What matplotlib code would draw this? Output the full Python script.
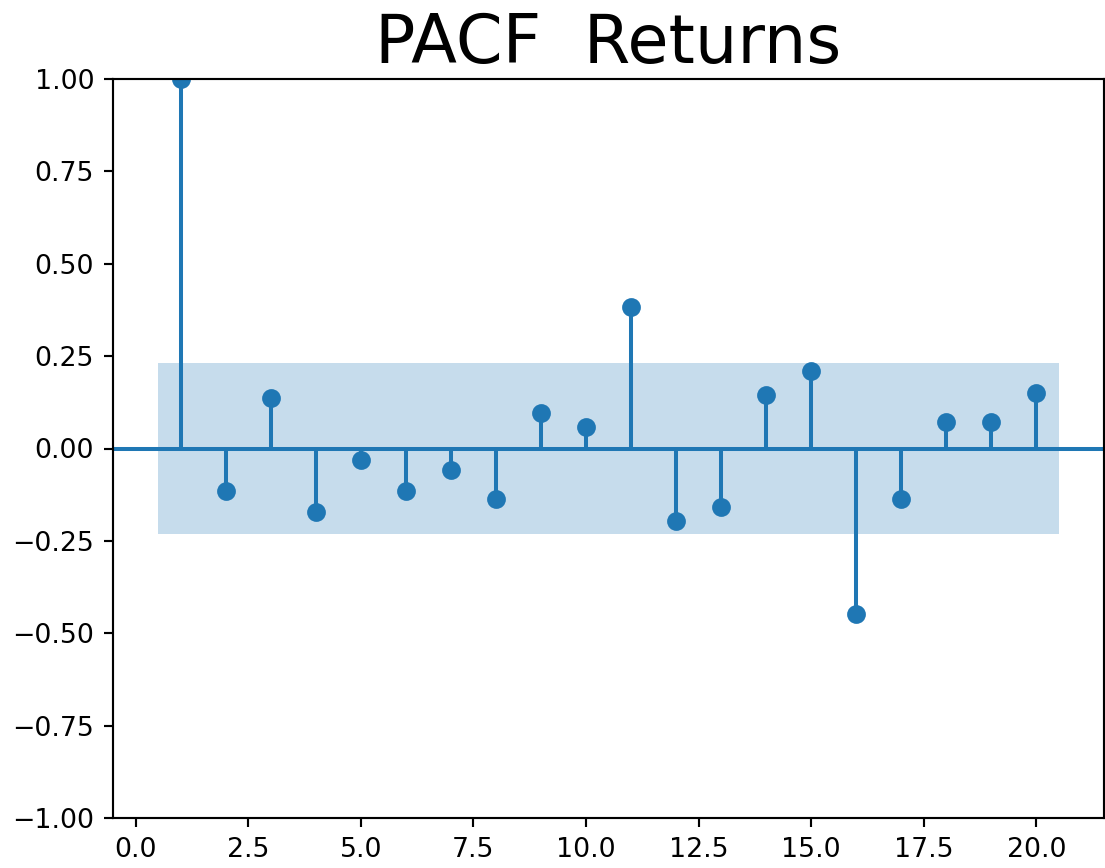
import matplotlib
matplotlib.use('Agg')
import matplotlib.pyplot as plt
import numpy as np

# partial autocorrelation of returns, lags 1..20
lags = np.arange(1, 21)
pacf_vals = [1.00, -0.116, 0.138, -0.172, -0.030, -0.115, -0.057, -0.138, 0.096, 0.057,
             0.383, -0.197, -0.158, 0.145, 0.210, -0.447, -0.138, 0.071, 0.071, 0.150]
conf = 0.232

W, H, DPI = 1105, 868, 193
fig = plt.figure(figsize=(W / DPI, H / DPI), dpi=DPI)
ax = fig.add_axes([113 / W, 50 / H, (1104 - 113) / W, (818 - 79) / H])

c = '#1f77b4'
ax.vlines(lags, [0], pacf_vals, color=c, linewidth=1.5)
ax.axhline(0, color=c, linewidth=1.5)
ax.plot(lags, pacf_vals, 'o', color=c, markersize=6)

band_x = lags.astype(float).copy()
band_x[0] -= 0.5
band_x[-1] += 0.5
ax.fill_between(band_x, -conf, conf, color=c, alpha=0.25, linewidth=0)

ax.set_xlim(-0.5, 21.5)
ax.set_ylim(-1, 1)
ax.set_xticks(np.arange(0, 21, 2.5))
ax.set_yticks(np.arange(-1, 1.01, 0.25))
ax.set_title('PACF  Returns', fontsize=25)

fig.savefig('out.png', dpi=DPI)
